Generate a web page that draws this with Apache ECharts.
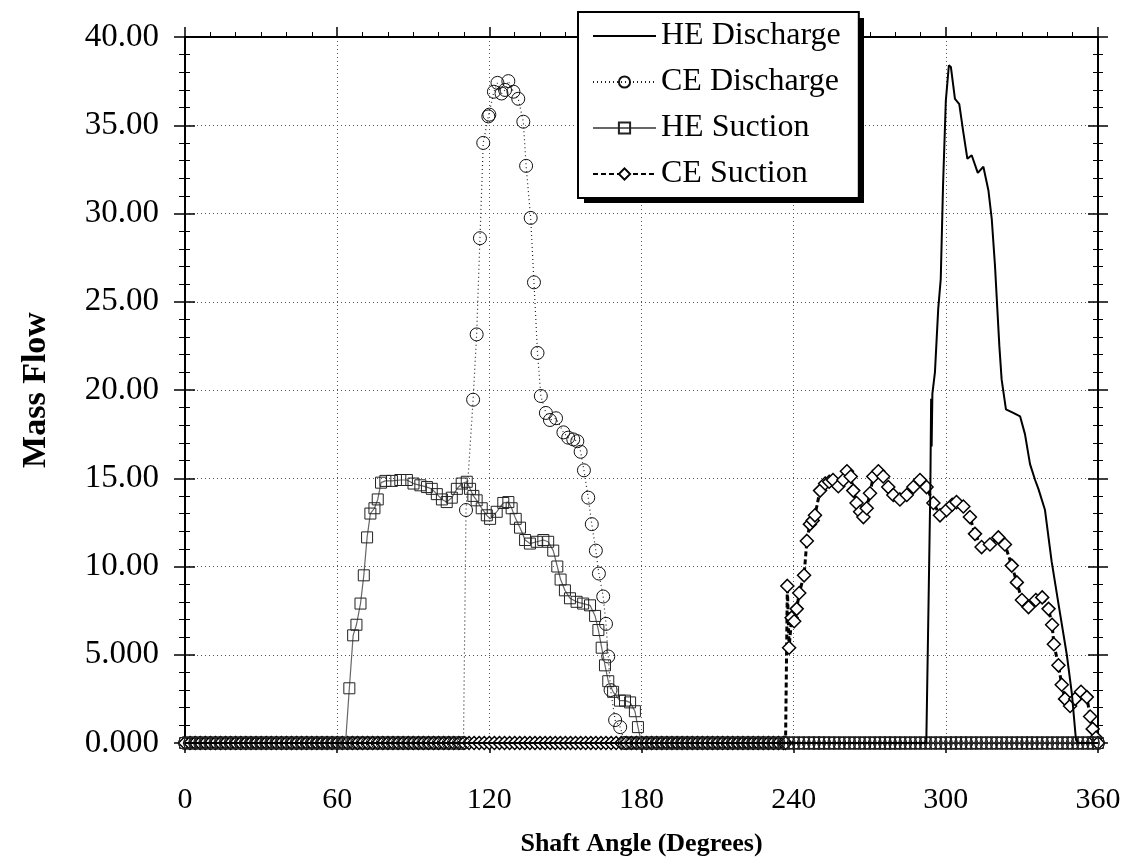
<!DOCTYPE html>
<html lang="en">
<head>
    <meta charset="UTF-8">
    <script src="https://cdn.jsdelivr.net/npm/echarts@6/dist/echarts.min.js"></script>
    <title>Mass Flow</title>
    <style type="text/css">
        html, body { margin: 0; padding: 0; background: #fff; }
        #chart { width: 1136px; height: 864px; }
    </style>
</head>
<body>
<div id="chart"></div>
<script type="text/javascript">
    // sample angles where the curves sit on zero (the marker band along the x axis)
    const bandAngles = [0,2,4,6,8,10,12,14,16,18,20,22,24,26,28,30,32,34,36,38,40,42,44,46,48,50,52,54,56,58,
        60,62,64,66,68,70,72,74,76,78,80,82,84,86,88,90,92,94,96,98,100,102,104,106,108,110,112,114,116,118,
        120,122,124,126,128,130,132,134,136,138,140,142,144,146,148,150,152,154,156,158,160,162,164,166,168,170,172,174,176,178,
        180,182,184,186,188,190,192,194,196,198,200,202,204,206,208,210,212,214,216,218,220,222,224,226,228,230,232,234,236,238,
        240,242,244,246,248,250,252,254,256,258,260,262,264,266,268,270,272,274,276,278,280,282,284,286,288,290,292,294,296,298,
        300,302,304,306,308,310,312,314,316,318,320,322,324,326,328,330,332,334,336,338,340,342,344,346,348,350,352,354,356,358,360];

    // HE Discharge (solid line, no markers)
    const heDischarge = [[0,0],[292.3,0],[293.3,9.0],[293.9,14.5],[294.2,19.5],[294.4,16.8],[294.7,19.8],[295.7,21.0],
        [297.0,24.6],[298.0,26.3],[298.9,31.6],[300.0,36.4],[301.2,38.4],[302.0,38.3],[303.6,36.5],[305.3,36.2],
        [306.9,34.6],[308.5,33.1],[310.2,33.3],[312.6,32.3],[314.8,32.65],[316.8,31.3],[318.1,29.7],[319.4,27.0],
        [320.3,24.6],[321.1,22.5],[322.0,20.6],[323.7,18.9],[326.6,18.7],[329.3,18.5],[331.2,17.5],[333.2,15.8],
        [335.2,14.9],[336.5,14.4],[339.1,13.2],[341.7,10.3],[344.4,7.9],[347.7,5.0],[349.7,2.8],[351.3,0.2],[352,0],[360,0]];

    // CE Discharge (dotted line, circles)
    const ceDisRange = [109.8, 173.4];
    const ceDischarge = [[109.8,0],[110.8,13.2],[113.6,19.45],[115.0,23.15],[116.3,28.6],[117.6,34.0],[119.6,35.5],
        [120.0,35.6],[121.8,36.9],[123.2,37.4],[124.8,36.8],[126.2,37.0],[127.5,37.5],[129.5,36.9],[131.4,36.5],
        [133.4,35.2],[134.5,32.7],[136.3,29.75],[137.6,26.1],[139.0,22.1],[140.3,19.66],[142.3,18.7],[143.9,18.3],
        [146.3,18.4],[149.2,17.6],[151.1,17.3],[153.1,17.2],[154.7,17.1],[156.0,16.5],[157.3,15.45],[159.0,13.9],
        [160.4,12.4],[162.0,10.9],[163.2,9.6],[164.9,8.3],[166.0,6.75],[166.9,4.9],[167.8,3.0],[169.6,1.3],[171.6,0.9],[173.4,0]];

    // HE Suction (grey line, squares)
    const heSucRange = [63.3, 180];
    const heSuction = [[63.3,0],[64.8,3.1],[66.3,6.1],[67.6,6.7],[69.2,7.9],[70.5,9.5],[71.8,11.65],[73.1,13.0],
        [74.7,13.3],[76.0,13.8],[77.3,14.75],[79.0,14.85],[81.6,14.85],[84.9,14.9],[87.5,14.9],[90.1,14.7],[92.8,14.6],
        [95.4,14.5],[97.3,14.4],[99.3,14.1],[101.3,13.8],[103.2,13.65],[105.2,13.9],[107.2,14.4],[109.1,14.7],
        [111.1,14.8],[112.4,14.4],[113.7,14.0],[115.0,13.75],[117.0,13.3],[119.0,12.9],[120.3,12.7],[122.9,13.1],
        [125.5,13.6],[127.5,13.65],[128.8,13.3],[130.4,12.7],[132.1,12.2],[134.1,11.5],[136.0,11.3],[138.7,11.4],
        [141.3,11.5],[143.2,11.4],[145.2,10.9],[146.8,10.0],[148.1,9.26],[149.8,8.65],[151.8,8.2],[154.4,8.0],
        [157.0,7.9],[159.7,7.8],[161.7,7.2],[163.0,6.4],[164.3,5.4],[165.6,4.4],[166.9,3.5],[168.8,2.9],[171.5,2.4],
        [173.5,2.4],[175.5,2.3],[177.4,1.8],[178.6,0.9],[180,0]];

    // CE Suction (thick dashed line, diamonds)
    const ceSucRange = [236.8, 360];
    const ceSuction = [[236.8,0],[237.5,8.9],[238.2,5.4],[239.2,7.1],[240.2,6.9],[241.2,7.6],[242.2,8.5],[244.1,9.5],
        [245.2,11.45],[246.4,12.4],[247.5,12.6],[248.4,12.9],[250.4,14.3],[252.4,14.7],[254.0,14.8],[255.5,14.9],
        [257.6,14.55],[259.6,14.9],[261.0,15.4],[262.5,15.1],[263.5,14.3],[264.8,13.6],[266.2,13.1],[267.5,12.8],
        [268.8,13.3],[270.1,14.15],[271.4,15.1],[273.4,15.4],[275.3,15.1],[277.3,14.5],[279.3,14.05],[281.9,13.8],
        [284.6,14.05],[287.2,14.5],[289.8,14.9],[292.4,14.5],[295.1,13.6],[297.7,12.9],[300.3,13.2],[302.5,13.5],
        [304.2,13.65],[306.9,13.4],[309.5,12.8],[311.5,11.85],[314.1,11.1],[317.4,11.25],[320.7,11.65],[323.3,11.25],
        [326.0,10.05],[328.0,9.1],[330.0,8.1],[332.6,7.7],[335.5,8.1],[338.0,8.25],[340.5,7.6],[341.9,6.7],[342.6,5.6],
        [344.4,4.4],[345.7,3.3],[347.0,2.5],[349.0,2.1],[351.0,2.5],[353.3,2.9],[355.6,2.6],[356.9,1.5],[357.9,0.8],
        [359.2,0.3],[360,0]];

    const seriesNames = ['HE Discharge', 'CE Discharge', 'HE Suction', 'CE Suction'];
    const xTicks = [0, 60, 120, 180, 240, 300, 360];

    // zero samples outside the active range, then the active points
    function withBand(points, range) {
        const before = bandAngles.filter(a => a < range[0]).map(a => [a, 0]);
        const after = bandAngles.filter(a => a > range[1]).map(a => [a, 0]);
        return before.concat(points, after);
    }

    const serif = 'Liberation Serif';
    const black = '#000';

    function yFmt(v) {
        return v < 10 ? v.toFixed(3) : v.toFixed(2);
    }

    const dotted = { show: true, lineStyle: { color: '#555', type: [1, 3], width: 1 } };

    function xAx(pos, inside, extra) {
        return Object.assign({
            type: 'value', position: pos, min: 0, max: 360, interval: 60,
            axisLine: { show: true, onZero: false, lineStyle: { color: black, width: 2 } },
            axisTick: { show: true, inside: inside, length: 10, lineStyle: { color: black, width: 1.5 } },
            minorTick: { show: true, splitNumber: 6, length: 5, lineStyle: { color: black, width: 1 } },
            axisLabel: { show: false },
            splitLine: { show: false }
        }, extra || {});
    }

    function yAx(pos, inside, extra) {
        return Object.assign({
            type: 'value', position: pos, min: 0, max: 40, interval: 5,
            axisLine: { show: true, onZero: false, lineStyle: { color: black, width: 2 } },
            axisTick: { show: true, inside: inside, length: 10, lineStyle: { color: black, width: 1.5 } },
            minorTick: { show: true, splitNumber: 5, length: 5, lineStyle: { color: black, width: 1 } },
            axisLabel: { show: false },
            splitLine: { show: false }
        }, extra || {});
    }

    const myChart = echarts.init(document.getElementById('chart'), null, { renderer: 'canvas' });

    const option = {
        animation: false,
        backgroundColor: '#fff',
        grid: { left: 185, right: 38, top: 37, bottom: 121, containLabel: false },
        // solid drop shadow of the legend box
        graphic: [{
            type: 'rect', left: 584, top: 18, z: 20,
            shape: { width: 280, height: 185 },
            style: { fill: black }
        }],
        legend: {
            data: [
                { name: seriesNames[0], itemStyle: { opacity: 0 } },
                seriesNames[1], seriesNames[2], seriesNames[3]
            ],
            orient: 'vertical',
            left: 578, top: 12, z: 30,
            padding: [8, 18, 8, 14],
            itemWidth: 63, itemHeight: 14, itemGap: 14,
            backgroundColor: '#fff',
            borderColor: black, borderWidth: 2,
            textStyle: { fontFamily: serif, fontSize: 32, lineHeight: 32, color: black }
        },
        xAxis: [
            xAx('bottom', false, {
                axisLabel: {
                    show: true, fontFamily: serif, fontSize: 30, color: black, margin: 42,
                    formatter: v => xTicks.indexOf(v) >= 0 ? String(v) : ''
                },
                splitLine: dotted,
                name: 'Shaft Angle (Degrees)', nameLocation: 'middle', nameGap: 88,
                nameTextStyle: { fontFamily: serif, fontSize: 26, fontWeight: 'bold', color: black }
            }),
            xAx('top', false)
        ],
        yAxis: [
            yAx('left', false, {
                axisTick: { show: true, length: 11, lineStyle: { color: black, width: 1.5 } },
                minorTick: { show: true, splitNumber: 5, length: 6, lineStyle: { color: black, width: 1 } },
                axisLabel: { show: true, fontFamily: serif, fontSize: 33, color: black, margin: 26, formatter: yFmt },
                splitLine: dotted,
                name: 'Mass Flow', nameLocation: 'middle', nameGap: 132, nameRotate: 90,
                nameTextStyle: { fontFamily: serif, fontSize: 34, fontWeight: 'bold', color: black }
            }),
            yAx('left', true),
            yAx('right', false),
            yAx('right', true)
        ],
        series: [
            {
                name: seriesNames[0], type: 'line', data: heDischarge,
                symbol: 'none', z: 5,
                lineStyle: { color: black, width: 2 },
                itemStyle: { color: black }
            },
            {
                name: seriesNames[1], type: 'line', data: withBand(ceDischarge, ceDisRange),
                symbol: 'circle', symbolSize: 13, showAllSymbol: true, z: 3,
                lineStyle: { color: '#222', width: 1.2, type: [1, 3] },
                itemStyle: { color: 'rgba(255,255,255,0)', borderColor: '#111', borderWidth: 1 }
            },
            {
                name: seriesNames[2], type: 'line', data: withBand(heSuction, heSucRange),
                symbol: 'rect', symbolSize: 11, showAllSymbol: true, z: 4,
                lineStyle: { color: '#666', width: 1.2 },
                itemStyle: { color: 'rgba(255,255,255,0)', borderColor: '#222', borderWidth: 1 }
            },
            {
                name: seriesNames[3], type: 'line', data: withBand(ceSuction, ceSucRange),
                symbol: 'diamond', symbolSize: 13, showAllSymbol: true, z: 2,
                lineStyle: { color: black, width: 3, type: [5, 3] },
                itemStyle: { color: '#fff', borderColor: black, borderWidth: 1.5 }
            }
        ]
    };

    myChart.setOption(option);
</script>
</body>
</html>
